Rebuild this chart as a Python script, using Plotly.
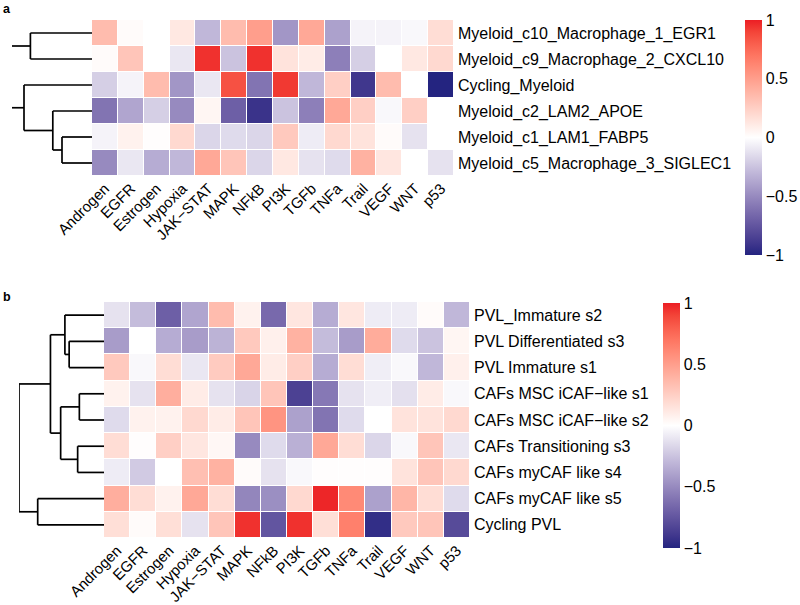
import plotly.graph_objects as go

W, H = 800, 605

pathways = ["Androgen", "EGFR", "Estrogen", "Hypoxia", "JAK\u2212STAT", "MAPK", "NFkB",
            "PI3K", "TGFb", "TNFa", "Trail", "VEGF", "WNT", "p53"]

rows_a = ["Myeloid_c10_Macrophage_1_EGR1", "Myeloid_c9_Macrophage_2_CXCL10", "Cycling_Myeloid",
          "Myeloid_c2_LAM2_APOE", "Myeloid_c1_LAM1_FABP5", "Myeloid_c5_Macrophage_3_SIGLEC1"]
vals_a = [
    [0.35, 0.02, 0.00, 0.12, -0.30, 0.35, 0.50, -0.45, 0.45, -0.40, -0.05, -0.05, -0.03, 0.18],
    [0.02, 0.30, 0.00, -0.10, 0.95, -0.25, 0.95, 0.15, 0.10, -0.55, -0.20, 0.00, 0.12, 0.20],
    [-0.20, -0.05, 0.35, -0.45, -0.10, 0.85, -0.60, 0.93, -0.30, 0.25, -0.90, 0.35, 0.00, -1.00],
    [-0.60, -0.38, -0.20, -0.50, 0.05, -0.70, -0.92, -0.25, -0.55, 0.45, 0.25, -0.03, 0.25, 0.00],
    [-0.05, 0.07, 0.01, 0.20, -0.17, -0.15, -0.17, 0.28, -0.08, 0.20, 0.15, 0.02, -0.12, 0.00],
    [-0.50, -0.10, -0.35, -0.30, 0.45, 0.30, -0.17, 0.12, -0.12, -0.15, 0.40, 0.13, 0.00, -0.12],
]

rows_b = ["PVL_Immature s2", "PVL Differentiated s3", "PVL Immature s1", "CAFs MSC iCAF\u2212like s1",
          "CAFs MSC iCAF\u2212like s2", "CAFs Transitioning s3", "CAFs myCAF like s4",
          "CAFs myCAF like s5", "Cycling PVL"]
vals_b = [
    [-0.12, -0.28, -0.70, -0.38, 0.35, 0.07, -0.65, 0.13, -0.35, 0.13, -0.08, -0.08, 0.02, -0.30],
    [-0.42, 0.00, -0.35, -0.42, -0.32, 0.28, 0.08, 0.40, -0.28, -0.42, 0.43, -0.15, -0.25, 0.05],
    [0.28, -0.03, 0.18, -0.10, 0.27, 0.45, 0.10, 0.25, -0.35, 0.18, -0.07, -0.03, -0.30, 0.08],
    [0.07, -0.12, 0.42, 0.10, -0.12, -0.18, 0.30, -0.85, -0.58, -0.12, -0.07, -0.13, 0.10, -0.03],
    [-0.15, 0.07, 0.07, 0.20, 0.10, 0.30, 0.55, -0.40, -0.60, -0.15, 0.00, 0.15, 0.15, 0.20],
    [0.18, 0.01, 0.25, 0.13, 0.04, -0.50, -0.15, -0.33, 0.45, 0.18, -0.17, -0.03, 0.30, -0.10],
    [-0.08, -0.22, 0.00, 0.33, 0.40, 0.02, -0.12, -0.03, 0.01, 0.01, 0.01, 0.15, 0.30, 0.20],
    [0.42, 0.18, 0.07, 0.45, 0.18, -0.52, -0.48, 0.20, 0.98, 0.60, -0.40, 0.38, 0.18, -0.15],
    [0.17, 0.02, 0.17, -0.12, 0.30, 0.95, -0.75, 0.95, 0.17, 0.65, -0.95, 0.28, 0.30, -0.80],
]

# dendrogram merges: (left node, right node, height); nodes >= n are earlier merges
merges_a = [(0, 1, 0.77), (4, 5, 0.375), (3, 7, 0.49), (2, 8, 0.85)]
roots_a = [6, 9]
stub_a = 1.0
merges_b = [(1, 2, 0.41), (0, 9, 0.46), (3, 4, 0.29), (5, 6, 0.31), (11, 12, 0.51),
            (10, 13, 0.63), (7, 8, 0.78), (14, 15, 1.0)]

colorbar_ticks = [-1, -0.5, 0, 0.5, 1]
colorbar_text = ["\u22121", "\u22120.5", "0", "0.5", "1"]

# ---------- colour scale (LAB interpolation, like colorRamp2) ----------
def srgb_to_lab(c):
    def lin(v):
        v = v / 255
        return v / 12.92 if v <= 0.04045 else ((v + 0.055) / 1.055) ** 2.4
    r, g, b = [lin(v) for v in c]
    X = (0.4124 * r + 0.3576 * g + 0.1805 * b) / 0.95047
    Y = (0.2126 * r + 0.7152 * g + 0.0722 * b)
    Z = (0.0193 * r + 0.1192 * g + 0.9505 * b) / 1.08883
    def f(t):
        return t ** (1 / 3) if t > 0.008856 else 7.787 * t + 16 / 116
    fx, fy, fz = f(X), f(Y), f(Z)
    return (116 * fy - 16, 500 * (fx - fy), 200 * (fy - fz))

def lab_to_srgb(lab):
    L, a, b = lab
    fy = (L + 16) / 116
    fx = fy + a / 500
    fz = fy - b / 200
    def finv(t):
        return t ** 3 if t ** 3 > 0.008856 else (t - 16 / 116) / 7.787
    X, Y, Z = finv(fx) * 0.95047, finv(fy), finv(fz) * 1.08883
    r = 3.2406 * X - 1.5372 * Y - 0.4986 * Z
    g = -0.9689 * X + 1.8758 * Y + 0.0415 * Z
    bb = 0.0557 * X - 0.2040 * Y + 1.0570 * Z
    def gam(v):
        v = 12.92 * v if v <= 0.0031308 else 1.055 * v ** (1 / 2.4) - 0.055
        return max(0, min(255, round(v * 255)))
    return (gam(r), gam(g), gam(bb))

low, mid, high = (36, 36, 128), (255, 255, 255), (236, 30, 36)
Llow, Lmid, Lhigh = srgb_to_lab(low), srgb_to_lab(mid), srgb_to_lab(high)
cscale = []
N = 20
for i in range(N + 1):
    t = i / N
    if t <= 0.5:
        u = t / 0.5
        lab = tuple(Llow[k] + (Lmid[k] - Llow[k]) * u for k in range(3))
    else:
        u = (t - 0.5) / 0.5
        lab = tuple(Lmid[k] + (Lhigh[k] - Lmid[k]) * u for k in range(3))
    r, g, b = lab_to_srgb(lab)
    cscale.append([t, f"rgb({r},{g},{b})"])

# ---------- dendrogram segments ----------
def dendro_segments(n, merges, roots=None, stub=None):
    pos = {i: float(i) for i in range(n)}
    hgt = {i: 0.0 for i in range(n)}
    xs, ys = [], []
    for k, (a, b, h) in enumerate(merges):
        node = n + k
        for child in (a, b):
            xs += [hgt[child], h, None]
            ys += [pos[child], pos[child], None]
        xs += [h, h, None]
        ys += [pos[a], pos[b], None]
        pos[node] = (pos[a] + pos[b]) / 2
        hgt[node] = h
    if roots:
        for r in roots:
            xs += [hgt[r], stub, None]
            ys += [pos[r], pos[r], None]
    return xs, ys

fig = go.Figure()
font = "Liberation Sans, Arial, Helvetica, sans-serif"

def px_x(a, b):
    return [a / W, b / W]

def px_y(top, bottom):
    return [1 - bottom / H, 1 - top / H]

# panel a
xa, ya = dendro_segments(len(rows_a), merges_a, roots_a, stub_a)
fig.add_trace(go.Scatter(x=xa, y=ya, mode="lines", line=dict(color="black", width=1.7),
                         xaxis="x", yaxis="y", hoverinfo="skip", showlegend=False))
fig.add_trace(go.Heatmap(z=vals_a, x=list(range(len(pathways))), y=list(range(len(rows_a))),
                         coloraxis="coloraxis", xaxis="x2", yaxis="y2", xgap=1, ygap=1))
# panel b
xb, yb = dendro_segments(len(rows_b), merges_b)
fig.add_trace(go.Scatter(x=xb, y=yb, mode="lines", line=dict(color="black", width=1.7),
                         xaxis="x3", yaxis="y3", hoverinfo="skip", showlegend=False))
fig.add_trace(go.Heatmap(z=vals_b, x=list(range(len(pathways))), y=list(range(len(rows_b))),
                         coloraxis="coloraxis2", xaxis="x4", yaxis="y4", xgap=1, ygap=1))

colfont = dict(family=font, size=15, color="black")
rowfont = dict(family=font, size=16, color="black")
hide = dict(showgrid=False, zeroline=False, showticklabels=False, showline=False, ticks="")

def cbar(y0, y1, x0):
    return dict(
        x=x0 / W, xanchor="left", y=1 - ((y0 + y1) / 2) / H, yanchor="middle",
        len=(y1 - y0) / H, lenmode="fraction", thickness=17, thicknessmode="pixels",
        outlinewidth=0, ticks="", tickvals=colorbar_ticks, ticktext=colorbar_text,
        tickfont=dict(family=font, size=16, color="black"), ypad=0, xpad=0,
    )

fig.update_layout(
    width=W, height=H, margin=dict(l=0, r=0, t=0, b=0, autoexpand=False),
    paper_bgcolor="white", plot_bgcolor="white", font=dict(family=font, color="black"),
    xaxis=dict(domain=px_x(12, 92), range=[1.0, 0.0], **hide),
    yaxis=dict(domain=px_y(20, 176), range=[len(rows_a) - 0.5, -0.5], **hide),
    xaxis2=dict(domain=px_x(92, 454), range=[-0.5, len(pathways) - 0.5], showgrid=False,
                zeroline=False, tickvals=list(range(len(pathways))), ticktext=pathways,
                tickangle=-45, ticks="", tickfont=colfont, anchor="y2", automargin=False),
    yaxis2=dict(domain=px_y(20, 176), range=[len(rows_a) - 0.5, -0.5], showgrid=False,
                zeroline=False, side="right", tickvals=list(range(len(rows_a))),
                ticktext=rows_a, ticks="", tickfont=rowfont, anchor="x2",
                ticklabelstandoff=3, automargin=False),
    xaxis3=dict(domain=px_x(19, 104), range=[1.0, 0.0], anchor="y3", **hide),
    yaxis3=dict(domain=px_y(302, 538), range=[len(rows_b) - 0.5, -0.5], anchor="x3", **hide),
    xaxis4=dict(domain=px_x(104, 470), range=[-0.5, len(pathways) - 0.5], showgrid=False,
                zeroline=False, tickvals=list(range(len(pathways))), ticktext=pathways,
                tickangle=-45, ticks="", tickfont=colfont, anchor="y4", automargin=False),
    yaxis4=dict(domain=px_y(302, 538), range=[len(rows_b) - 0.5, -0.5], showgrid=False,
                zeroline=False, side="right", tickvals=list(range(len(rows_b))),
                ticktext=rows_b, ticks="", tickfont=rowfont, anchor="x4",
                ticklabelstandoff=3, automargin=False),
    coloraxis=dict(colorscale=cscale, cmin=-1, cmax=1, colorbar=cbar(20, 255, 745)),
    coloraxis2=dict(colorscale=cscale, cmin=-1, cmax=1, colorbar=cbar(303, 548, 663)),
    annotations=[
        dict(text="<b>a</b>", x=1 / W, y=1 - 0 / H, xref="paper", yref="paper",
             xanchor="left", yanchor="top", showarrow=False,
             font=dict(family=font, size=12.5, color="black")),
        dict(text="<b>b</b>", x=1 / W, y=1 - 288 / H, xref="paper", yref="paper",
             xanchor="left", yanchor="top", showarrow=False,
             font=dict(family=font, size=12.5, color="black")),
    ],
)

# remove the browser's default 8px page margin so the figure sits at the window origin
fig.write_html("out.html", config={"displayModeBar": False},
               post_script="document.body.style.margin='0';")
